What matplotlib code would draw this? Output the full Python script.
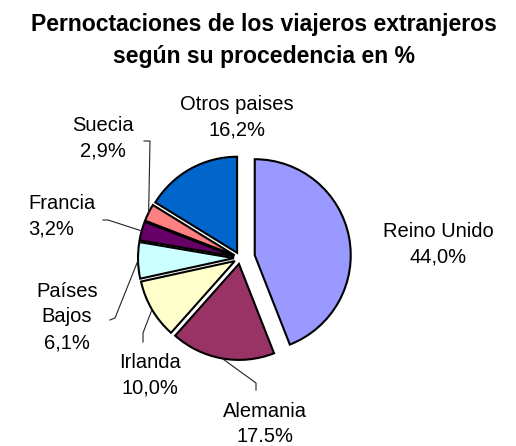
import matplotlib.pyplot as plt
import numpy as np

plt.rcParams['font.family'] = ['Liberation Sans', 'DejaVu Sans']

W, H = 516, 446

paises = ['Reino Unido', 'Alemania', 'Irlanda', 'Países\nBajos', 'Francia', 'Suecia', 'Otros paises']
valores = [44.0, 17.5, 10.0, 6.1, 3.2, 2.9, 16.2]
textos = ['44,0%', '17.5%', '10,0%', '6,1%', '3,2%', '2,9%', '16,2%']
colores = ['#9999FF', '#993366', '#FFFFCC', '#CCFFFF', '#660066', '#FF8080', '#0066CC']
# explode offsets (pie uses data units here, i.e. pixels)
separar = [15, 6, 6, 6, 6, 6, 6]

# label block centres in pixels (top origin)
pos_txt = [(438, 244), (265, 424), (150, 375), (67, 317), (62, 216), (103, 138), (237, 117)]
# leader line points (text side), None = no line
guias = [None, [(256, 390), (256, 383)], [(143, 342), (143, 333)],
         [(110, 320), (115, 318)], [(103, 220), (108, 220)],
         [(144, 141), (150, 141)], None]

fig = plt.figure(figsize=(W / 100, H / 100), dpi=100)
ax = fig.add_axes([0, 0, 1, 1])

cx, cy, r = 240, H - 258, 96
wedges, _ = ax.pie(valores, colors=colores, explode=separar, startangle=90,
                   counterclock=False, center=(cx, cy), radius=r,
                   wedgeprops=dict(edgecolor='black', linewidth=1.5))

for w, nom, txt, (tx, ty), g in zip(wedges, paises, textos, pos_txt, guias):
    ma = 'left' if nom == 'Francia' else 'center'
    ax.text(tx, H - ty, nom + '\n' + txt, ha='center', va='center',
            fontsize=14.5, linespacing=1.45, multialignment=ma)
    if g is not None:
        ang = np.deg2rad((w.theta1 + w.theta2) / 2)
        px = w.center[0] + w.r * np.cos(ang)
        py = w.center[1] + w.r * np.sin(ang)
        xs = [p[0] for p in g] + [px]
        ys = [H - p[1] for p in g] + [py]
        ax.plot(xs, ys, color='#222222', lw=0.8)

ax.text(264, H - 41, 'Pernoctaciones de los viajeros extranjeros\nsegún su procedencia en %',
        ha='center', va='center', fontsize=16.6, fontweight='bold', linespacing=1.5)

ax.set_xlim(0, W)
ax.set_ylim(0, H)
ax.set_aspect('equal')
ax.axis('off')

fig.savefig('out.png', dpi=100)
